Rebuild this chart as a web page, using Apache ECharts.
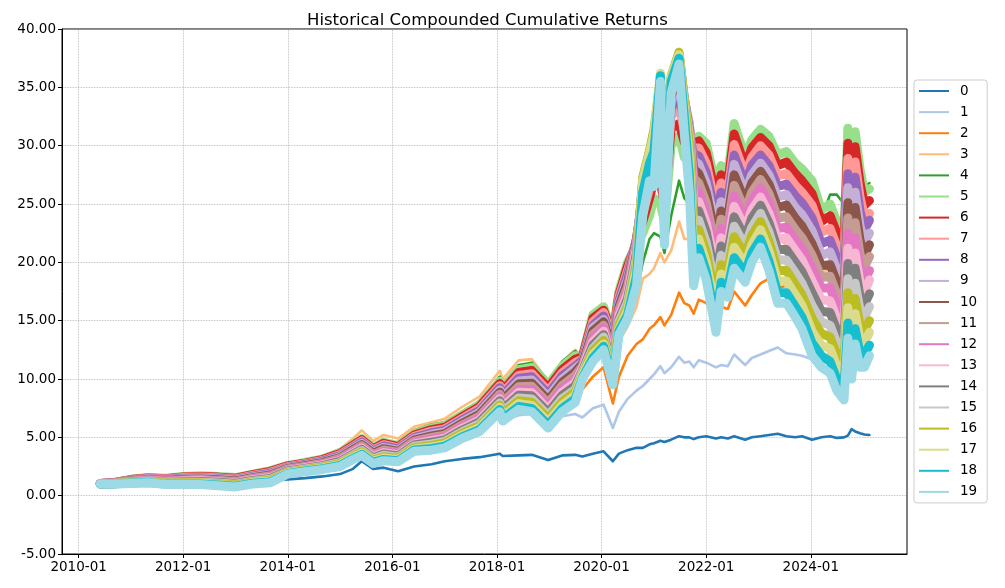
<!DOCTYPE html>
<html><head><meta charset="utf-8">
<script src="https://cdn.jsdelivr.net/npm/echarts@6/dist/echarts.min.js"></script>
<style>html,body{margin:0;padding:0;background:#fff}#c{width:1005px;height:588px}</style>
</head><body><div id="c"></div>
<script>
const dates = ['2010-06-01','2010-09-01','2011-01-01','2011-05-01','2011-09-01','2012-01-01','2012-05-01','2012-09-01','2013-01-01','2013-05-01',
'2013-09-01','2014-01-01','2014-05-01','2014-09-01','2015-01-01','2015-04-01','2015-06-01','2015-08-20','2015-11-01','2016-02-10',
'2016-06-01','2016-10-01','2017-01-01','2017-05-01','2017-09-01','2018-01-20','2018-02-10','2018-06-01','2018-09-01','2018-12-24',
'2019-04-01','2019-07-01','2019-08-20','2019-11-01','2020-01-15','2020-03-20','2020-05-01','2020-07-01','2020-09-01','2020-10-15',
'2020-12-01','2021-01-01','2021-02-15','2021-03-15','2021-05-01','2021-06-25','2021-08-01','2021-09-05','2021-10-05','2021-11-10',
'2022-01-01','2022-03-10','2022-04-15','2022-06-01','2022-07-15','2022-09-30','2022-11-15','2023-01-15','2023-03-15','2023-05-15',
'2023-07-15','2023-09-15','2023-11-01','2024-01-10','2024-03-15','2024-05-15','2024-07-01','2024-08-20','2024-09-16','2024-10-12',
'2024-11-06','2024-12-10','2025-01-10','2025-02-14'];

const s0 = [1.0,1.05,1.2,1.3,1.25,1.3,1.35,1.3,1.25,1.35, 1.3,1.4,1.5,1.65,1.85,2.3,2.95,2.3,2.4,2.1, 2.5,2.7,2.95,3.15,3.3,3.6,3.4,3.45,3.5,3.05, 3.45,3.5,3.35,3.6,3.8,2.95,3.6,3.9,4.1,4.1, 4.4,4.5,4.7,4.6,4.8,5.1,5.0,5.0,4.85,5.0, 5.1,4.9,5.0,4.9,5.1,4.8,5.0,5.1,5.2,5.3, 5.1,5.0,5.1,4.8,5.0,5.1,4.95,5.0,5.15,5.7, 5.5,5.35,5.25,5.2];
const s1 = [1.0,1.05,1.25,1.35,1.3,1.35,1.4,1.35,1.3,1.5, 1.6,1.8,2.0,2.2,2.5,3.0,3.6,2.9,3.2,3.0, 3.8,4.0,4.2,4.9,5.5,7.0,6.4,6.9,7.0,5.9, 6.8,7.0,6.7,7.5,7.8,5.8,7.2,8.3,9.0,9.4, 10.0,10.4,11.1,10.5,11.0,11.9,11.4,11.5,11.0,11.6, 11.4,11.0,11.2,11.1,12.1,11.2,11.8,12.1,12.4,12.7, 12.2,12.1,12.0,11.7,11.5,11.3,10.9,10.7,11.3,11.6, 11.4,11.2,11.1,11.3];
const s2 = [1.0,1.1,1.3,1.4,1.35,1.45,1.5,1.45,1.4,1.6, 1.75,2.0,2.2,2.5,2.9,3.6,4.1,3.3,3.6,3.3, 4.0,4.4,4.8,5.4,6.1,7.6,7.0,7.8,8.0,6.8, 8.3,9.0,9.1,10.2,11.0,7.9,10.2,12.0,13.0,13.4, 14.3,14.6,15.3,14.6,15.5,17.4,16.5,16.3,15.6,16.8, 16.5,15.8,16.2,16.0,17.5,16.3,17.2,18.2,18.6,17.8, 18.0,17.6,17.5,17.0,17.6,17.9,16.8,16.0,19.0,18.0, 19.0,18.6,18.4,18.7];
const s3 = [1.05,1.15,1.5,1.65,1.6,1.75,1.8,1.75,1.65,2.0, 2.3,2.75,3.0,3.4,4.0,4.9,5.6,4.7,5.2,4.9, 5.9,6.3,6.6,7.6,8.5,10.7,10.0,11.6,11.7,9.8, 11.5,12.5,11.8,13.8,15.0,10.5,13.2,14.5,16.2,18.6, 19.0,19.5,20.8,20.0,21.0,23.5,22.0,22.0,20.5,23.0, 22.0,19.5,20.5,19.8,22.0,20.0,21.0,22.5,22.0,22.0, 21.5,21.0,21.0,19.5,19.0,19.5,18.5,18.0,21.5,20.0, 21.5,21.0,20.5,21.0];
const s4 = [1.05,1.15,1.45,1.6,1.55,1.7,1.75,1.7,1.6,1.95, 2.3,2.75,3.0,3.3,3.9,4.6,5.1,4.3,4.8,4.5, 5.6,6.1,6.3,7.2,8.1,10.2,9.6,11.2,11.4,9.9, 11.5,12.4,11.8,14.0,15.5,11.0,13.6,15.5,17.3,20.0, 22.0,22.5,22.2,20.8,24.0,27.0,25.5,25.0,24.0,26.5, 26.0,22.0,24.5,23.5,27.5,25.0,26.5,28.0,27.0,26.5, 26.5,25.5,25.5,24.0,23.8,25.8,25.8,25.0,28.0,26.0, 27.5,26.5,26.5,26.8];
const s5 = [1.05,1.12,1.40,1.55,1.50,1.65,1.70,1.65,1.55,1.85, 2.15,2.60,2.85,3.15,3.70,4.40,4.90,4.10,4.60,4.30, 5.30,5.80,6.00,6.90,7.80,9.80,9.2,10.80,11.00,9.50, 11.10,12.0,12.0,15.5,16.2,14.0,17.5,20.0,21.5,22.5, 24.0,25.5,25.0,23.5,30.0,30.8,29.0,28.5,30.5,30.8, 30.2,26.5,28.3,27.5,31.9,29.0,30.5,31.4,30.8,29.2, 29.5,28.5,28.0,27.0,24.5,25.0,23.5,22.5,31.5,25.0, 31.2,28.0,26.0,26.3];
const s6 = [1.05,1.11,1.38,1.52,1.46,1.60,1.65,1.59,1.49,1.79, 2.08,2.55,2.79,3.09,3.61,4.31,4.80,4.00,4.49,4.20, 5.19,5.66,5.86,6.76,7.64,9.61,9.0,10.56,10.73,9.24, 10.82,11.7,11.9,15.2,15.9,13.7,17.2,19.7,21.7,23.5, 25.5,27.0,26.8,25.0,31.5,31.9,30.3,29.5,30.2,30.4, 29.4,25.6,27.5,26.8,31.0,28.2,29.8,30.7,30.0,28.3, 28.6,27.6,27.0,25.9,23.5,24.0,22.5,21.5,30.2,23.9, 29.9,26.8,24.9,25.3];
const s7 = [1.05,1.10,1.35,1.49,1.42,1.55,1.59,1.54,1.44,1.73, 2.00,2.49,2.74,3.02,3.53,4.21,4.69,3.91,4.37,4.10, 5.09,5.53,5.73,6.61,7.47,9.43,8.8,10.31,10.46,8.97, 10.54,11.4,11.7,14.9,15.7,13.4,17.0,19.3,21.9,24.2, 26.3,27.8,28.5,26.3,32.5,33.5,31.3,30.3,29.8,29.8, 28.5,24.7,26.8,26.0,30.1,27.5,29.0,30.0,29.2,27.4, 27.6,26.6,26.0,24.9,22.6,22.9,21.4,20.5,28.9,22.9, 28.6,25.6,23.9,24.2];
const s8 = [1.04,1.09,1.33,1.45,1.38,1.50,1.54,1.48,1.38,1.67, 1.93,2.44,2.68,2.96,3.44,4.12,4.59,3.81,4.26,4.00, 4.98,5.39,5.59,6.47,7.31,9.24,8.6,10.07,10.19,8.71, 10.26,11.1,11.6,14.6,15.4,13.0,16.7,19.0,22.0,24.8, 27.0,28.5,30.0,27.5,33.2,34.5,32.0,30.9,29.3,29.1, 27.7,23.8,26.0,25.3,29.2,26.7,28.3,29.2,28.3,26.5, 26.7,25.7,25.1,23.8,21.6,21.9,20.4,19.4,27.6,21.8, 27.3,24.4,22.8,23.6];
const s9 = [1.04,1.09,1.30,1.42,1.34,1.45,1.49,1.42,1.32,1.61, 1.85,2.39,2.62,2.89,3.36,4.03,4.49,3.71,4.14,3.90, 4.87,5.26,5.46,6.33,7.14,9.06,8.4,9.83,9.91,8.44, 9.99,10.9,11.4,14.4,15.1,12.7,16.4,18.6,22.1,25.3, 27.6,29.1,31.2,28.5,33.8,35.3,32.6,31.3,28.7,28.4, 26.8,22.9,25.2,24.5,28.4,25.9,27.5,28.5,27.5,25.6, 25.8,24.7,24.1,22.7,20.6,20.9,19.4,18.4,26.4,20.7, 26.0,23.1,21.7,22.5];
const s10 = [1.03,1.08,1.28,1.39,1.30,1.40,1.43,1.36,1.26,1.55, 1.78,2.33,2.56,2.83,3.27,3.94,4.38,3.62,4.03,3.80, 4.76,5.12,5.32,6.19,6.98,8.87,8.2,9.59,9.64,8.18, 9.71,10.6,11.3,14.1,14.9,12.4,16.2,18.3,22.0,25.7, 28.1,29.6,32.2,29.3,34.3,36.0,33.1,31.6,28.0,27.6, 26.0,22.0,24.4,23.8,27.5,25.2,26.8,27.8,26.7,24.7, 24.9,23.8,23.1,21.6,19.7,19.8,18.3,17.4,25.1,19.6, 24.7,21.9,20.6,21.5];
const s11 = [1.03,1.07,1.25,1.36,1.26,1.35,1.38,1.31,1.21,1.49, 1.70,2.28,2.51,2.76,3.19,3.84,4.28,3.52,3.91,3.70, 4.66,4.99,5.19,6.04,6.81,8.69,8.0,9.34,9.37,7.91, 9.43,10.3,11.1,13.8,14.6,12.1,15.9,17.9,21.8,26.1, 28.5,30.0,33.0,30.0,34.7,36.6,33.5,31.8,27.2,26.8, 25.1,21.1,23.7,23.0,26.6,24.4,26.0,27.1,25.9,23.8, 23.9,22.8,22.1,20.6,18.7,18.8,17.3,16.4,23.8,18.6, 23.4,20.7,19.6,20.5];
const s12 = [1.03,1.06,1.23,1.33,1.23,1.30,1.33,1.25,1.15,1.43, 1.63,2.23,2.45,2.70,3.10,3.75,4.18,3.43,3.80,3.60, 4.55,4.85,5.05,5.90,6.65,8.50,7.8,9.10,9.10,7.65, 9.15,10.0,11.0,13.5,14.4,11.8,15.7,17.6,21.5,26.4, 28.8,30.4,33.7,30.5,35.0,37.1,33.8,31.9,26.3,26.0, 24.3,20.3,22.9,22.3,25.7,23.7,25.3,26.4,25.1,22.9, 23.0,21.9,21.2,19.5,17.8,17.8,16.3,15.4,22.5,17.5, 22.1,19.5,18.5,19.3];
const s13 = [1.02,1.05,1.20,1.29,1.19,1.25,1.27,1.19,1.09,1.36, 1.55,2.17,2.39,2.64,3.01,3.66,4.07,3.33,3.69,3.50, 4.44,4.71,4.91,5.76,6.49,8.31,7.6,8.86,8.83,7.39, 8.87,9.7,10.9,13.2,14.1,11.4,15.4,17.3,21.2,26.7, 29.1,30.7,34.3,30.8,35.3,37.5,34.0,31.8,25.3,25.2, 23.4,19.4,22.1,21.5,24.8,22.9,24.5,25.6,24.2,22.0, 22.1,21.0,20.2,18.4,16.8,16.7,15.2,14.3,21.2,16.4, 20.8,18.3,17.4,18.5];
const s14 = [1.02,1.05,1.18,1.26,1.15,1.20,1.22,1.14,1.04,1.30, 1.48,2.12,2.34,2.57,2.93,3.56,3.97,3.23,3.57,3.40, 4.34,4.58,4.78,5.61,6.32,8.13,7.4,8.61,8.56,7.12, 8.59,9.4,10.7,12.9,13.8,11.1,15.1,16.9,20.8,27.0, 29.3,31.0,34.8,31.0,35.6,37.8,34.1,31.5,24.3,24.4, 22.6,18.5,21.4,20.8,23.9,22.1,23.8,24.9,23.4,21.1, 21.1,20.0,19.2,17.4,15.8,15.7,14.2,13.3,19.9,15.4, 19.5,17.1,16.4,17.3];
const s15 = [1.02,1.04,1.15,1.23,1.11,1.15,1.16,1.08,0.98,1.24, 1.40,2.06,2.28,2.51,2.84,3.47,3.87,3.14,3.46,3.30, 4.23,4.44,4.64,5.47,6.16,7.94,7.2,8.37,8.29,6.86, 8.31,9.1,10.6,12.6,13.6,10.8,14.9,16.6,20.4,27.2, 29.5,31.2,35.3,30.5,35.8,38.0,34.0,31.0,23.2,23.6, 21.7,17.6,20.6,20.0,23.1,21.4,23.0,24.2,22.6,20.2, 20.2,19.1,18.2,16.3,14.9,14.6,13.1,12.3,18.6,14.3, 18.2,15.9,15.3,16.2];
const s16 = [1.01,1.03,1.13,1.20,1.07,1.10,1.11,1.02,0.92,1.18, 1.33,2.01,2.22,2.44,2.76,3.38,3.76,3.04,3.34,3.20, 4.12,4.31,4.51,5.33,5.99,7.76,7.0,8.13,8.01,6.59, 8.04,8.9,10.4,12.4,13.3,10.5,14.6,16.2,19.9,27.3, 29.6,31.4,35.8,29.5,36.0,38.0,33.8,30.2,22.0,22.8, 20.9,16.7,19.8,19.3,22.2,20.6,22.3,23.5,21.8,19.3, 19.3,18.1,17.2,15.2,13.9,13.6,12.1,11.3,17.4,13.2, 16.9,14.6,14.2,15.0];
const s17 = [1.01,1.02,1.10,1.16,1.03,1.05,1.06,0.96,0.86,1.12, 1.25,1.96,2.16,2.38,2.67,3.29,3.66,2.94,3.23,3.10, 4.01,4.17,4.37,5.19,5.83,7.57,6.8,7.89,7.74,6.33, 7.76,8.6,10.3,12.1,13.0,10.1,14.3,15.9,19.4,27.0, 29.4,31.0,36.2,27.5,35.9,37.8,33.3,29.0,20.8,22.0, 20.0,15.8,19.0,18.5,21.3,19.8,21.5,22.8,21.0,18.4, 18.4,17.2,16.3,14.1,12.9,12.6,11.1,10.3,16.1,12.1, 15.6,13.4,13.1,14.0];
const s18 = [1.00,1.01,1.08,1.13,0.99,1.00,1.00,0.91,0.81,1.06, 1.18,1.90,2.11,2.31,2.59,3.19,3.55,2.85,3.11,3.00, 3.91,4.04,4.24,5.04,5.66,7.39,6.6,7.64,7.47,6.06, 7.48,8.3,10.1,11.8,12.8,9.8,14.1,15.5,18.8,26.0, 28.5,29.5,36.0,24.5,35.5,37.5,32.5,27.5,19.5,21.2, 19.2,14.9,18.3,17.8,20.4,19.1,20.8,22.0,20.1,17.4, 17.4,16.2,15.3,13.1,12.0,11.5,10.0,9.2,14.8,11.1, 14.3,12.2,12.1,12.9];
const s19 = [1.00,1.00,1.05,1.10,0.95,0.95,0.95,0.85,0.75,1.00, 1.10,1.85,2.05,2.25,2.50,3.10,3.45,2.75,3.00,2.90, 3.80,3.90,4.10,4.90,5.50,7.20,6.4,7.40,7.20,5.80, 7.20,8.0,10.0,11.5,12.5,9.5,13.8,15.2,18.0,24.0, 27.0,26.5,35.5,21.5,34.5,37.0,31.0,26.0,18.0,20.4, 18.5,14.0,17.5,17.0,19.5,18.3,20.0,21.3,19.3,16.5, 16.5,15.3,14.3,12.0,11.0,10.5,9.0,8.2,13.5,10.0, 13.0,11.0,11.0,12.0];

const seriesNames = ['0','1','2','3','4','5','6','7','8','9','10','11','12','13','14','15','16','17','18','19'];
const xTickDates = ['2010-01-01','2012-01-01','2014-01-01','2016-01-01','2018-01-01','2020-01-01','2022-01-01','2024-01-01'];
const yTicks = [-5,0,5,10,15,20,25,30,35,40];
const colors = ['#1f77b4','#aec7e8','#ff7f0e','#ffbb78','#2ca02c','#98df8a','#d62728','#ff9896','#9467bd','#c5b0d5',
'#8c564b','#c49c94','#e377c2','#f7b6d2','#7f7f7f','#c7c7c7','#bcbd22','#dbdb8d','#17becf','#9edae5'];

const allValues = [s0,s1,s2,s3,s4,s5,s6,s7,s8,s9,s10,s11,s12,s13,s14,s15,s16,s17,s18,s19];
const ts = d => +new Date(d + 'T00:00:00');
const dateTs = dates.map(ts);
const xTickTs = xTickDates.map(ts);
const FONT = 'DejaVu Sans';
const gridLine = { color: '#b0b0b0', type: 'dotted', width: 0.8 };

const series = allValues.map((vals, i) => {
  const s = {
    name: seriesNames[i],
    type: 'line',
    data: vals.map((v, j) => [dateTs[j], v]),
    showSymbol: false,
    symbol: 'none',
    animation: false,
    silent: true,
    lineStyle: { width: i < 5 ? 2.6 : 9, color: colors[i], join: 'round', cap: 'round' },
    itemStyle: { color: colors[i] }
  };
  if (i === 0) {
    s.markLine = {
      silent: true, symbol: 'none', z: 1, animation: false,
      label: { show: false },
      lineStyle: gridLine,
      data: xTickTs.map(t => ({ xAxis: t }))
    };
  }
  return s;
});

const chart = echarts.init(document.getElementById('c'), null, { renderer: 'canvas' });
chart.setOption({
  animation: false,
  backgroundColor: '#fff',
  color: colors,
  title: {
    text: 'Historical Compounded Cumulative Returns',
    left: 302, top: 7,
    textStyle: { fontFamily: FONT, fontSize: 16.5, fontWeight: 'normal', color: '#000' }
  },
  grid: { left: 62, right: 98, top: 29, bottom: 34, show: true, borderColor: '#000', borderWidth: 1, containLabel: false },
  xAxis: {
    type: 'value',
    min: ts('2009-09-07'), max: ts('2025-11-03'),
    axisLine: { show: true, onZero: false, lineStyle: { color: '#000', width: 1 } },
    axisTick: { show: true, inside: false, length: 4, lineStyle: { color: '#000' }, customValues: xTickTs },
    axisLabel: {
      customValues: xTickTs, margin: 6, color: '#000', fontFamily: FONT, fontSize: 13.5,
      formatter: v => { const d = new Date(v); return d.getFullYear() + '-' + String(d.getMonth() + 1).padStart(2, '0'); }
    },
    splitLine: { show: false }
  },
  yAxis: {
    type: 'value', min: yTicks[0], max: yTicks[yTicks.length - 1], interval: 5,
    axisLine: { show: true, onZero: false, lineStyle: { color: '#000', width: 1 } },
    axisTick: { show: true, inside: false, length: 4, lineStyle: { color: '#000' } },
    axisLabel: { margin: 6, color: '#000', fontFamily: FONT, fontSize: 13.5, formatter: v => v.toFixed(2) },
    splitLine: { show: true, lineStyle: gridLine }
  },
  legend: {
    orient: 'vertical', left: 914, top: 80,
    padding: [4, 10, 4, 5],
    itemGap: 7.1, itemWidth: 30, itemHeight: 2,
    icon: 'rect',
    borderColor: '#cccccc', borderWidth: 1, borderRadius: 3, backgroundColor: '#fff',
    textStyle: { fontFamily: FONT, fontSize: 13.5, color: '#000', lineHeight: 14, padding: [0, 0, 0, 6] },
    data: seriesNames
  },
  series: series
});
</script>
</body></html>
